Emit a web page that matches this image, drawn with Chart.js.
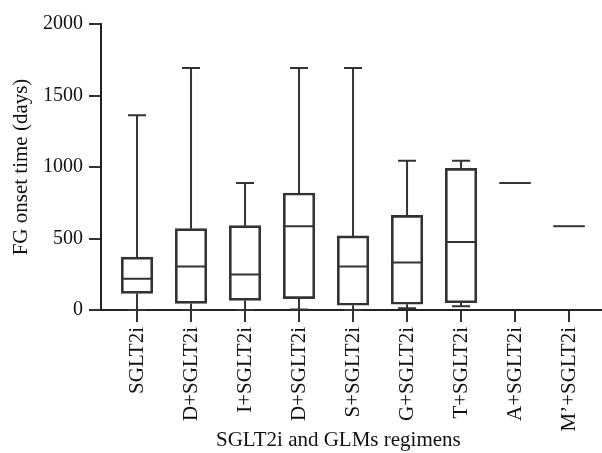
<!DOCTYPE html>
<html>
<head>
<meta charset="utf-8">
<script src="https://cdn.jsdelivr.net/npm/chart.js@4/dist/chart.umd.min.js"></script>
<style>
  body { margin: 0; background: #fff; }
  #wrap { width: 602px; height: 453px; }
</style>
</head>
<body>
<div id="wrap"><canvas id="chart"></canvas></div>
<script>
// regimens and box statistics (days)
const regimens = ['SGLT2i', 'D+SGLT2i', 'I+SGLT2i', 'D+SGLT2i', 'S+SGLT2i', 'G+SGLT2i', 'T+SGLT2i', 'A+SGLT2i', 'M\u2019+SGLT2i'];
const minVals = [0, 0, 0, 3, 0, 12, 26, null, null];
const q1Vals = [116, 46, 67, 79, 33, 40, 51, null, null];
const medianVals = [218, 304, 249, 586, 304, 332, 476, 888, 586];
const q3Vals = [370, 569, 590, 818, 518, 662, 990, null, null];
const maxVals = [1362, 1692, 888, 1692, 1692, 1044, 1044, null, null];
const yTicks = [0, 500, 1000, 1500, 2000];

const lineColor = '#333';
const tickFont = { family: 'Liberation Serif', size: 20 };
const labelFont = { family: 'Liberation Serif', size: 21 };

const boxes = regimens.map((r, i) => ({
    x: i,
    y: q1Vals[i] === null ? null : [q1Vals[i], q3Vals[i]]
}));

// whiskers, caps and medians drawn through the chart scales
const whiskers = {
    id: 'whiskers',
    afterDatasetsDraw(chart) {
        const ctx = chart.ctx;
        const xs = chart.scales.x, ys = chart.scales.y;
        const half = 31.5 / 2, cap = 9;
        ctx.save();
        ctx.strokeStyle = lineColor;
        ctx.lineWidth = 2;
        regimens.forEach((r, i) => {
            const x = xs.getPixelForValue(i);
            ctx.beginPath();
            if (maxVals[i] !== null) {
                const pMax = ys.getPixelForValue(maxVals[i]);
                const pQ3 = ys.getPixelForValue(q3Vals[i]);
                const pQ1 = ys.getPixelForValue(q1Vals[i]);
                const pMin = ys.getPixelForValue(minVals[i]);
                ctx.moveTo(x, pQ3); ctx.lineTo(x, pMax);
                ctx.moveTo(x - cap, pMax); ctx.lineTo(x + cap, pMax);
                ctx.moveTo(x, pQ1); ctx.lineTo(x, pMin);
                ctx.moveTo(x - cap, pMin); ctx.lineTo(x + cap, pMin);
            }
            const pMed = ys.getPixelForValue(medianVals[i]);
            ctx.moveTo(x - half, pMed); ctx.lineTo(x + half, pMed);
            ctx.stroke();
        });
        ctx.restore();
    }
};

new Chart(document.getElementById('chart'), {
    type: 'bar',
    data: {
        datasets: [{
            data: boxes,
            backgroundColor: 'rgba(255,255,255,0)',
            borderColor: lineColor,
            borderWidth: 2,
            borderSkipped: false,
            barThickness: 31.5
        }]
    },
    options: {
        responsive: true,
        maintainAspectRatio: false,
        animation: false,
        layout: { padding: { top: 24, right: 0, left: 0, bottom: 0 } },
        plugins: { legend: { display: false }, tooltip: { enabled: false } },
        scales: {
            x: {
                type: 'linear',
                offset: false,
                min: -0.667,
                max: 8.61,
                afterBuildTicks: function(scale) {
                    scale.ticks = regimens.map((r, i) => ({ value: i }));
                },
                afterFit: function(scale) { scale.height = 143; },
                grid: { offset: false, drawOnChartArea: false, drawTicks: true, tickLength: 12, color: lineColor, lineWidth: 2 },
                border: { display: true, color: '#222', width: 2 },
                ticks: {
                    autoSkip: false,
                    minRotation: 90,
                    maxRotation: 90,
                    padding: 5,
                    color: '#111',
                    font: labelFont,
                    callback: function(v) { return regimens[v]; }
                },
                title: {
                    display: true,
                    text: 'SGLT2i and GLMs regimens     ',
                    color: '#111',
                    font: labelFont,
                    padding: { top: 0, bottom: 0 }
                }
            },
            y: {
                min: 0,
                max: 2000,
                afterBuildTicks: function(scale) {
                    scale.ticks = yTicks.map(v => ({ value: v }));
                },
                afterFit: function(scale) { scale.width = 101; },
                grid: { drawOnChartArea: false, drawTicks: true, tickLength: 12, color: lineColor, lineWidth: 2 },
                border: { display: true, color: '#222', width: 2 },
                ticks: {
                    padding: 6,
                    color: '#111',
                    font: tickFont,
                    callback: function(v) { return String(v); }
                },
                title: {
                    display: true,
                    text: 'FG onset time (days)',
                    color: '#111',
                    font: labelFont,
                    padding: { top: 9, bottom: 0 }
                }
            }
        }
    },
    plugins: [whiskers]
});
</script>
</body>
</html>
